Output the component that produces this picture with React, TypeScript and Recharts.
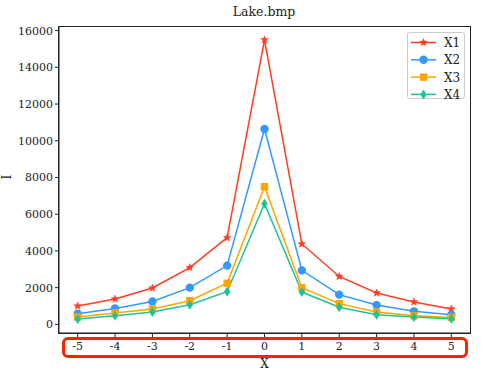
import React from "react";
import { LineChart, Line, XAxis, YAxis } from "recharts";

const xValues = [-5, -4, -3, -2, -1, 0, 1, 2, 3, 4, 5];
const x1 = [1000, 1380, 1980, 3090, 4720, 15500, 4380, 2610, 1710, 1220, 840];
const x2 = [580, 870, 1250, 2000, 3200, 10640, 2940, 1620, 1050, 710, 530];
const x3 = [400, 620, 840, 1290, 2240, 7500, 2000, 1130, 670, 470, 380];
const x4 = [290, 470, 680, 1070, 1780, 6570, 1760, 930, 530, 400, 310];
const yTicks = [0, 2000, 4000, 6000, 8000, 10000, 12000, 14000, 16000];

const FONT = "DejaVu Serif";

const series = [
  { key: "X1", color: "#ff3d22", marker: "star" },
  { key: "X2", color: "#3399ff", marker: "circle" },
  { key: "X3", color: "#ffa500", marker: "square" },
  { key: "X4", color: "#1fc39b", marker: "diamond" },
];

const data = xValues.map((x, i) => ({ x, X1: x1[i], X2: x2[i], X3: x3[i], X4: x4[i] }));

function markerShape(kind: string, cx: number, cy: number, color: string, key?: string) {
  if (kind === "star") {
    const pts: string[] = [];
    for (let k = 0; k < 10; k++) {
      const r = k % 2 === 0 ? 4 : 1.7;
      const a = -Math.PI / 2 + (k * Math.PI) / 5;
      pts.push(`${cx + r * Math.cos(a)},${cy + r * Math.sin(a)}`);
    }
    return <polygon key={key} points={pts.join(" ")} fill={color} stroke={color} strokeWidth={0.5} />;
  }
  if (kind === "circle") return <circle key={key} cx={cx} cy={cy} r={4.2} fill={color} />;
  if (kind === "square") return <rect key={key} x={cx - 3.7} y={cy - 3.7} width={7.4} height={7.4} fill={color} />;
  return (
    <polygon
      key={key}
      points={`${cx},${cy - 5} ${cx + 3.2},${cy} ${cx},${cy + 5} ${cx - 3.2},${cy}`}
      fill={color}
    />
  );
}

function makeDot(kind: string, color: string) {
  return (props: any) => {
    const { cx, cy, index } = props;
    if (cx == null || cy == null) return <g key={`e${index}`} />;
    return markerShape(kind, cx, cy, color, `${kind}-${index}`);
  };
}

function XTick(props: any) {
  const { x, y, payload } = props;
  return (
    <text x={x} y={y + 11} textAnchor="middle" style={{ fontFamily: FONT, fontSize: 11, fill: "#222" }}>
      {payload.value}
    </text>
  );
}

function YTick(props: any) {
  const { x, y, payload } = props;
  return (
    <text x={x} y={y + 4} textAnchor="end" style={{ fontFamily: FONT, fontSize: 11, fill: "#222" }}>
      {payload.value}
    </text>
  );
}

function LegendBox() {
  return (
    <div
      style={{
        position: "absolute",
        left: 407,
        top: 32,
        width: 56,
        height: 65,
        border: "1px solid #cccccc",
        borderRadius: 3,
        background: "rgba(255,255,255,0.8)",
      }}
    >
      <svg width={56} height={66} style={{ position: "absolute", left: 0, top: 0, overflow: "visible" }}>
        {series.map((s, i) => {
          const y = 9.5 + i * 17.3;
          return (
            <g key={s.key}>
              <line x1={3} x2={28} y1={y} y2={y} stroke={s.color} strokeWidth={1.5} />
              {markerShape(s.marker, 15.5, y, s.color)}
              <text x={36} y={y + 4.5} style={{ fontFamily: FONT, fontSize: 12, fill: "#222" }}>
                {s.key}
              </text>
            </g>
          );
        })}
      </svg>
    </div>
  );
}

export default function App() {
  return (
    <div style={{ position: "absolute", left: 0, top: 0, width: 495, height: 372, background: "#fff", fontFamily: FONT }}>
      <div style={{ position: "absolute", left: 58, width: 412, top: 4, textAlign: "center", fontSize: 12.5, color: "#222" }}>
        Lake.bmp
      </div>
      <LineChart width={495} height={372} data={data} margin={{ top: 26, right: 25, left: 0, bottom: 0 }}>
        <XAxis
          dataKey="x"
          type="number"
          domain={[-5.5, 5.5]}
          ticks={xValues}
          allowDataOverflow
          height={39}
          tick={<XTick />}
          tickSize={4}
          stroke="#222"
          tickLine={{ stroke: "#222" }}
          label={{ value: "X", position: "insideBottom", offset: 4, style: { fontFamily: FONT, fontSize: 12, fill: "#222" } }}
        />
        <YAxis
          type="number"
          domain={[-470, 16250]}
          ticks={yTicks}
          allowDataOverflow
          width={59}
          tick={<YTick />}
          tickSize={4}
          stroke="#222"
          tickLine={{ stroke: "#222" }}
          label={{ value: "I", angle: -90, position: "insideLeft", offset: 7, style: { fontFamily: FONT, fontSize: 12, fill: "#222" } }}
        />
        {series.map((s) => (
          <Line
            key={s.key}
            dataKey={s.key}
            type="linear"
            stroke={s.color}
            strokeWidth={1.5}
            dot={makeDot(s.marker, s.color)}
            activeDot={false}
            isAnimationActive={false}
          />
        ))}
      </LineChart>
      <div
        style={{
          position: "absolute",
          left: 58,
          top: 26,
          width: 411,
          height: 306,
          border: "1px solid #222",
          pointerEvents: "none",
        }}
      />
      <LegendBox />
      <div
        style={{
          position: "absolute",
          left: 62,
          top: 337,
          width: 400,
          height: 15,
          border: "3px solid #ff2000",
          borderRadius: 6,
          pointerEvents: "none",
        }}
      />
    </div>
  );
}
